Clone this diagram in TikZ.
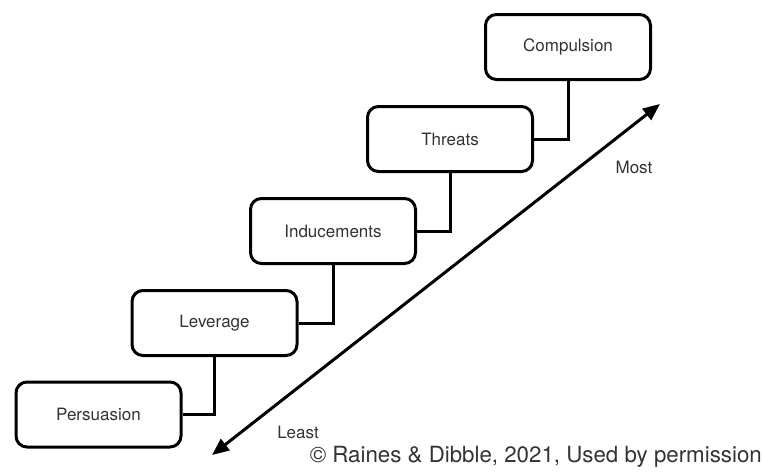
\documentclass[tikz,border=0pt]{standalone}
\usepackage{fontspec}
\setmainfont{TeX Gyre Heros}
\usetikzlibrary{arrows.meta}
\definecolor{txt}{HTML}{333333}
\begin{document}
\begin{tikzpicture}[x=1pt,y=-1pt,
  stepbox/.style={draw=black,line width=3pt,rounded corners=11pt,minimum width=165pt,minimum height=65pt,inner sep=0pt,text=txt,font=\fontsize{17}{20}\selectfont},
  link/.style={draw=black,line width=3pt},
  lbl/.style={text=txt,font=\fontsize{17}{20}\selectfont,inner sep=0pt}]
\useasboundingbox (0,0) rectangle (763,472);
\node[stepbox] (p) at (98.5,414.5) {Persuasion};
\node[stepbox] (l) at (214.5,323) {Leverage};
\node[stepbox] (i) at (333,231) {Inducements};
\node[stepbox] (t) at (450,139) {Threats};
\node[stepbox] (c) at (568,47) {Compulsion};
\draw[link] (p.east) -| (l.south);
\draw[link] (l.east) -| (i.south);
\draw[link] (i.east) -| (t.south);
\draw[link] (t.east) -| (c.south);
\coordinate (lo) at (212,455);
\coordinate (hi) at (660,104);
\draw[line width=3pt,{Triangle[length=17pt,width=14pt]}-{Triangle[length=17pt,width=14pt]}] (lo) -- (hi);
\node[lbl] (least) at (298,432) {Least};
\node[lbl] (most) at (634,167) {Most};
\node[lbl,anchor=east,font=\fontsize{22.3}{25}\selectfont] (copy) at (762,457) {© Raines \& Dibble, 2021, Used by permission};
\end{tikzpicture}
\end{document}
